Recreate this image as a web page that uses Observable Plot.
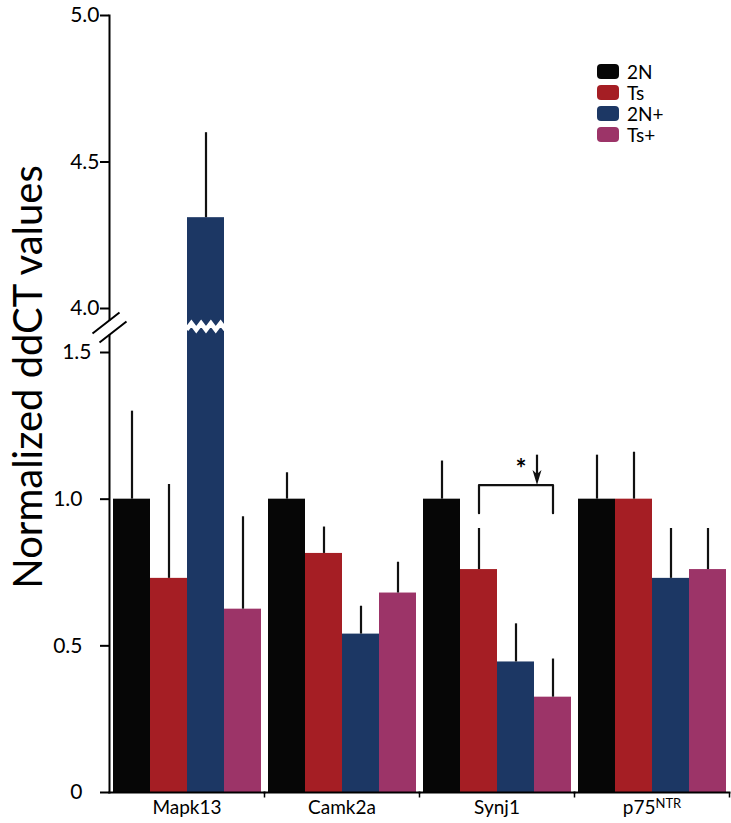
<!DOCTYPE html>
<html><head><meta charset="utf-8">
<script src="https://cdn.jsdelivr.net/npm/d3@7"></script>
<script src="https://cdn.jsdelivr.net/npm/@observablehq/plot@0.6"></script>
<style>
body{margin:0;background:#fff;font-family:Lato, sans-serif;}
#wrap{position:relative;width:731px;height:823px;}
#legend{position:absolute;left:597px;top:61px;}
.item{display:flex;align-items:center;height:21px;font-size:19px;color:#000;}
.sw{width:22px;height:15px;border-radius:4px;margin-right:8px;}
</style></head><body><div id="wrap"><div id="chart"></div><div id="legend"></div></div>
<script>
const genes = ["Mapk13", "Camk2a", "Synj1", "p75NTR"];
const groups = ["2N", "Ts", "2N+", "Ts+"];
const colors = ["#060606", "#a51e24", "#1c3764", "#9c3468"];
const v2N  = [1.00, 1.00, 1.00, 1.00];
const vTs  = [0.73, 0.815, 0.76, 1.00];
const v2Np = [4.31, 0.54, 0.445, 0.73];
const vTsp = [0.625, 0.68, 0.325, 0.76];
const e2N  = [0.30, 0.09, 0.13, 0.15];
const eTs  = [0.32, 0.09, 0.14, 0.16];
const e2Np = [0.29, 0.095, 0.13, 0.17];
const eTsp = [0.315, 0.105, 0.13, 0.14];
const yTicksUpper = [4, 4.5, 5];
const yTicksMid = [1.5];
const yTicksLower = [0, 0.5, 1];
const yBreak = [1.5, 4];
const yLabel = "Normalized ddCT values";
const sig = {gene: "Synj1", from: "Ts", to: "Ts+", low: 0.952, high: 1.048, arrowTop: 1.15, star: 1.1, label: "*"};

const vals = [v2N, vTs, v2Np, vTsp];
const errs = [e2N, eTs, e2Np, eTsp];
const rows = [];
genes.forEach((g, i) => groups.forEach((s, j) => rows.push({gene: g, series: s, value: vals[j][i], err: errs[j][i]})));

const breakMid = (yBreak[0] + yBreak[1]) / 2;
const fmt = d => d === 0 ? "0" : d.toFixed(1);

const zigzag = {draw(ctx, size) {
  const r = Math.sqrt(size / Math.PI), n = 4, a = 3.2;
  ctx.moveTo(-r, a);
  for (let k = 0; k < n; k++) {
    const x0 = -r + (2 * r) * k / n;
    ctx.lineTo(x0 + r / n, -a);
    ctx.lineTo(x0 + 2 * r / n, a);
  }
}};
const slashes = {draw(ctx) {
  ctx.moveTo(-17, 3); ctx.lineTo(10, -18);
  ctx.moveTo(-10, 12); ctx.lineTo(17, -9);
}};
const gapCover = {draw(ctx) { ctx.rect(-4, -10, 8, 14); }};
const vtick = {draw(ctx) { ctx.moveTo(0, 0); ctx.lineTo(0, 5); }};
const head = {draw(ctx) { ctx.moveTo(0, 0); ctx.lineTo(-4.5, -15); ctx.lineTo(0, -11); ctx.lineTo(4.5, -15); ctx.closePath(); }};

const first = [{gene: genes[0]}];
const sigRow = [{gene: sig.gene}];
const bracket = [
  {gene: sig.gene, series: sig.from, y: sig.low},
  {gene: sig.gene, series: sig.from, y: sig.high},
  {gene: sig.gene, series: sig.to, y: sig.high},
  {gene: sig.gene, series: sig.to, y: sig.low}
];

const chart = Plot.plot({
  width: 731, height: 823,
  marginLeft: 107, marginRight: 1, marginTop: 15, marginBottom: 31,
  style: {fontFamily: "Lato, sans-serif", color: "#000", background: "transparent"},
  fx: {domain: genes, padding: 0, label: null},
  x: {domain: groups, paddingInner: 0, paddingOuter: 0.077, axis: null},
  y: {type: "linear", domain: [0, yBreak[0], yBreak[1], 5], range: [792, 352, 308, 15], axis: null},
  color: {domain: groups, range: colors},
  marks: [
    Plot.barY(rows, {fx: "gene", x: "series", y: "value", fill: "series"}),
    Plot.ruleX(rows, {fx: "gene", x: "series", y1: "value", y2: d => d.value + d.err, stroke: "#111", strokeWidth: 2.2}),
    Plot.dot(rows.filter(d => d.value > yBreak[1]), {fx: "gene", x: "series", y: () => breakMid, dy: -4, r: 19.5, symbol: zigzag, stroke: "white", strokeWidth: 4.5, fill: "none"}),
    Plot.frame({anchor: "left", facetAnchor: "left", strokeWidth: 2}),
    Plot.frame({anchor: "bottom", strokeWidth: 2}),
    Plot.dot(first, {fx: "gene", y: () => breakMid, frameAnchor: "left", r: 5, symbol: gapCover, fill: "white", stroke: "none"}),
    Plot.dot(first, {fx: "gene", y: () => breakMid, frameAnchor: "left", r: 5, symbol: slashes, stroke: "#000", strokeWidth: 2, fill: "none"}),
    Plot.dot(genes, {fx: d => d, frameAnchor: "bottom-right", r: 3, symbol: vtick, stroke: "#000", strokeWidth: 1.5, fill: "none"}),
    Plot.axisY({ticks: yTicksUpper, tickFormat: fmt, tickSize: 9, tickPadding: 1, fontSize: 21, strokeWidth: 2, label: null}),
    Plot.axisY({ticks: yTicksMid, tickFormat: fmt, tickSize: 9, tickPadding: 9, fontSize: 21, strokeWidth: 2, label: null}),
    Plot.axisY({ticks: yTicksLower, tickFormat: fmt, tickSize: 9, tickPadding: 18, fontSize: 21, strokeWidth: 2, label: null}),
    Plot.axisFx({anchor: "bottom", tickSize: 0, tickPadding: 8, fontSize: 19, label: null}),
    Plot.text(first, {fx: "gene", frameAnchor: "left", text: () => yLabel, rotate: -90, dx: -68, dy: -27, fontSize: 40, lineAnchor: "bottom", textAnchor: "middle"}),
    Plot.line(bracket, {fx: "gene", x: "series", y: "y", stroke: "#111", strokeWidth: 2.2}),
    Plot.ruleX(sigRow, {fx: "gene", x: () => sig.to, y1: () => sig.arrowTop, y2: () => sig.high + 0.03, dx: -16, stroke: "#111", strokeWidth: 2.2}),
    Plot.dot(sigRow, {fx: "gene", x: () => sig.to, y: () => sig.high, dx: -16, r: 5, symbol: head, fill: "#111", stroke: "none"}),
    Plot.text(sigRow, {fx: "gene", x: () => "2N+", y: () => sig.star, dx: 5, text: () => sig.label, fontSize: 26, fontWeight: "bold"})
  ]
});

// superscript for p75NTR
chart.querySelectorAll("text").forEach(t => {
  if (t.textContent === "p75NTR") {
    t.textContent = "p75";
    const ts = document.createElementNS("http://www.w3.org/2000/svg", "tspan");
    ts.setAttribute("dy", "-0.45em");
    ts.setAttribute("font-size", "13");
    ts.textContent = "NTR";
    t.appendChild(ts);
  }
});
document.getElementById("chart").appendChild(chart);

const leg = d3.select("#legend");
groups.forEach((g, i) => {
  const it = leg.append("div").attr("class", "item");
  it.append("div").attr("class", "sw").style("background", colors[i]);
  it.append("span").text(g);
});
</script></body></html>
